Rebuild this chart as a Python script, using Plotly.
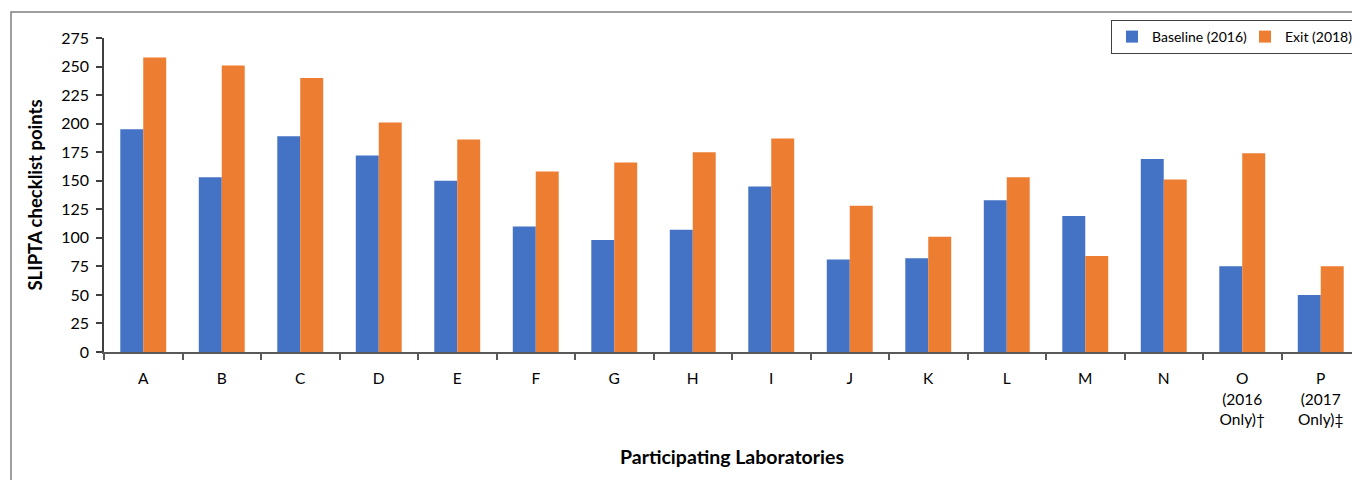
import plotly.graph_objects as go

labs = ["A", "B", "C", "D", "E", "F", "G", "H", "I", "J", "K", "L", "M", "N",
        "O<br>(2016<br>Only)†", "P<br>(2017<br>Only)‡"]
baseline = [195, 153, 189, 172, 150, 110, 98, 107, 145, 81, 82, 133, 119, 169, 75, 50]
exit_ = [258, 251, 240, 201, 186, 158, 166, 175, 187, 128, 101, 153, 84, 151, 174, 75]
yticks = list(range(0, 276, 25))

# page has an 8px body margin, so figure coords = page coords - 8
W, H = 1360, 480
ML, MR, MT, MB = 96, 8, 30, 136
FONT = "Lato, Carlito, Calibri, sans-serif"

fig = go.Figure()
fig.add_trace(go.Bar(x=labs, y=baseline, name="Baseline (2016)", marker_color="#4472C4",
                     marker_line_width=0))
fig.add_trace(go.Bar(x=labs, y=exit_, name="Exit (2018)", marker_color="#ED7D31",
                     marker_line_width=0))

pw = W - ML - MR
ph = H - MT - MB
fig.update_layout(
    width=W, height=H,
    margin=dict(l=ML, r=MR, t=MT, b=MB, autoexpand=False),
    paper_bgcolor="white", plot_bgcolor="white",
    barmode="group", bargap=0.415, bargroupgap=0,
    font=dict(family=FONT, size=15, color="#000000"),
    showlegend=True,
    legend=dict(orientation="h", x=(1103 - ML) / pw, y=1 + (MT - 12) / ph,
                xanchor="left", yanchor="top",
                bordercolor="#404040", borderwidth=1,
                font=dict(family=FONT, size=14, color="#000"),
                itemwidth=30, entrywidth=88, traceorder="normal"),
    xaxis=dict(
        type="category", tickson="boundaries", ticks="outside", ticklen=6,
        tickcolor="#595959", tickwidth=1.5,
        showline=True, linecolor="#595959", linewidth=1.5,
        showgrid=False, ticklabelstandoff=12, automargin=False,
        tickfont=dict(family=FONT, size=15.5),
        title=dict(text="<b>Participating Laboratories</b>", font=dict(family=FONT, size=19.5),
                   standoff=24),
    ),
    yaxis=dict(
        range=[0, 275], tickvals=yticks, ticks="outside", ticklen=6,
        tickcolor="#404040", tickwidth=1.5,
        showline=True, linecolor="#404040", linewidth=1.5,
        showgrid=False, zeroline=False, ticklabelstandoff=4, automargin=False,
        tickfont=dict(family=FONT, size=16),
        title=dict(text="<b>SLIPTA checklist points</b>", font=dict(family=FONT, size=18.5),
                   standoff=14),
    ),
    shapes=[dict(type="rect", xref="paper", yref="paper",
                 x0=(3 - ML) / pw, x1=1.02, y0=-(MB + 10) / ph, y1=1 + (MT - 4) / ph,
                 line=dict(color="#7f7f7f", width=1.5), layer="below")],
)

fig.write_html("out.html")
